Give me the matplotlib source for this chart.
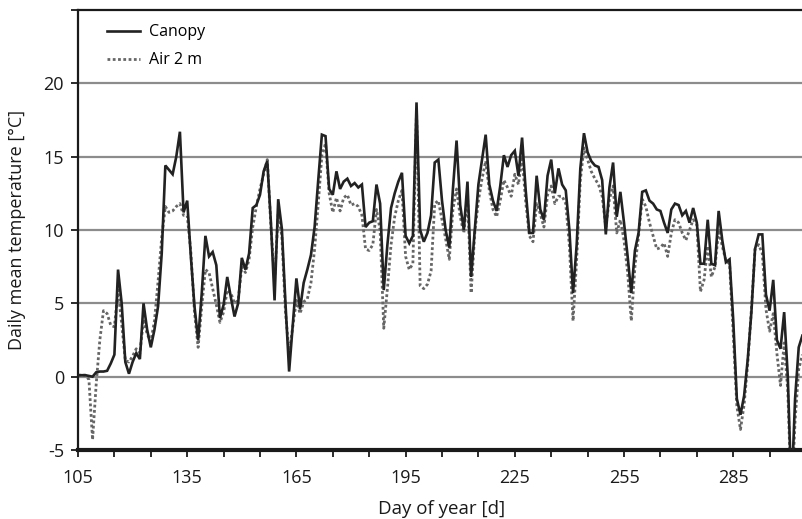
import matplotlib
matplotlib.use("Agg")
import matplotlib.pyplot as plt
import numpy as np

plt.rcParams['font.family'] = ['Open Sans', 'DejaVu Sans']

start_day = 105
canopy = [
    0.1, 0.1, 0.1, 0.05, 0.0, 0.3, 0.35, 0.35, 0.4, 0.9,          # 105-114
    1.5, 7.3, 5.0, 1.0, 0.2, 1.0, 1.6, 1.2, 5.0, 3.2,              # 115-124
    2.0, 3.2, 4.8, 8.4, 14.4, 14.1, 13.8, 15.0, 16.7, 11.2,        # 125-134
    12.0, 8.2, 4.8, 2.5, 5.7, 9.6, 8.2, 8.5, 7.6, 4.0,             # 135-144
    4.9, 6.8, 5.4, 4.1, 5.0, 8.1, 7.3, 8.4, 11.5, 11.7,            # 145-154
    12.4, 14.0, 14.7, 10.5, 5.2, 12.1, 10.1, 5.0, 0.35, 3.5,       # 155-164
    6.7, 4.6, 6.4, 7.3, 8.3, 10.2, 13.4, 16.5, 16.4, 12.8,         # 165-174
    12.4, 14.0, 12.8, 13.3, 13.5, 13.0, 13.2, 12.9, 13.1, 10.2,    # 175-184
    10.5, 10.6, 13.1, 11.8, 5.9, 9.0, 11.5, 12.5, 13.3, 13.9,      # 185-194
    9.6, 9.1, 9.6, 18.7, 10.0, 9.2, 9.8, 11.0, 14.6, 14.8,         # 195-204
    12.0, 10.0, 8.8, 12.8, 16.1, 11.7, 10.0, 13.3, 6.8, 10.0,      # 205-214
    13.1, 14.8, 16.5, 13.1, 12.0, 11.3, 13.0, 15.1, 14.3, 15.1,    # 215-224
    15.4, 13.7, 16.3, 12.7, 9.8, 9.8, 13.7, 11.4, 10.7, 13.7,      # 225-234
    14.8, 12.5, 14.2, 13.1, 12.7, 10.0, 5.7, 9.0, 14.2, 16.6,      # 235-244
    15.3, 14.7, 14.4, 14.3, 13.4, 9.7, 12.9, 14.6, 10.9, 12.6,     # 245-254
    10.5, 8.2, 5.7, 8.6, 9.8, 12.6, 12.7, 12.0, 11.8, 11.4,        # 255-264
    11.3, 10.5, 9.8, 11.4, 11.8, 11.7, 11.0, 11.3, 10.5, 11.5,     # 265-274
    10.5, 7.7, 7.7, 10.7, 7.7, 7.6, 11.3, 9.3, 7.8, 8.0,           # 275-284
    3.9, -1.5, -2.6, -1.3, 1.2, 4.4, 8.7, 9.7, 9.7, 5.6,           # 285-294
    4.5, 6.6, 2.5, 1.9, 4.4, 0.0, -8.0, -1.5, 2.0, 2.8,            # 295-304
]
air2m = [
    0.1, 0.1, 0.1, -0.2, -4.3, -0.5, 2.5, 4.5, 4.3, 3.5,           # 105-114
    3.4, 5.9, 3.6, 1.1, 1.0, 1.4, 1.9, 1.6, 3.9, 2.9,              # 115-124
    2.4, 3.8, 6.5, 9.5, 11.6, 11.2, 11.3, 11.6, 11.8, 11.0,        # 125-134
    11.0, 8.5, 4.4, 2.0, 4.8, 7.3, 7.1, 6.0, 4.9, 3.7,             # 135-144
    4.4, 5.9, 5.7, 5.0, 5.2, 7.5, 7.1, 8.0, 10.2, 11.6,            # 145-154
    12.8, 13.8, 14.8, 10.2, 6.6, 11.1, 9.6, 4.4, 1.6, 3.4,         # 155-164
    5.2, 4.3, 5.1, 5.3, 6.4, 8.7, 11.8, 15.1, 15.9, 12.5,          # 165-174
    11.2, 12.2, 11.3, 12.2, 12.4, 11.7, 11.8, 11.6, 11.0, 8.7,     # 175-184
    8.6, 9.0, 11.4, 10.0, 3.3, 6.0, 9.0, 10.9, 12.0, 12.7,         # 185-194
    8.2, 7.3, 7.7, 18.2, 6.2, 6.0, 6.3, 7.2, 11.8, 12.0,           # 195-204
    10.7, 9.4, 8.0, 11.4, 12.8, 10.9, 9.8, 12.4, 5.7, 9.8,         # 205-214
    12.0, 13.5, 14.7, 12.7, 11.4, 10.9, 12.0, 13.4, 12.9, 12.3,    # 215-224
    13.8, 13.1, 15.0, 11.9, 9.6, 9.2, 11.8, 11.1, 10.2, 12.4,      # 225-234
    13.0, 11.8, 12.3, 12.3, 11.8, 8.9, 3.8, 8.0, 13.4, 15.6,       # 235-244
    14.8, 14.0, 13.5, 13.1, 12.3, 10.2, 12.1, 13.0, 9.8, 10.7,     # 245-254
    9.3, 7.1, 3.8, 7.5, 9.6, 12.1, 11.6, 10.5, 9.6, 8.7,           # 255-264
    8.8, 9.1, 8.2, 9.8, 10.7, 10.5, 9.8, 9.3, 10.0, 10.7,          # 265-274
    10.4, 5.8, 6.6, 8.9, 6.8, 7.5, 10.0, 8.9, 7.9, 7.7,            # 275-284
    3.0, -2.0, -3.6, -1.9, 0.9, 4.6, 8.7, 9.0, 8.4, 4.6,           # 285-294
    3.1, 4.3, 1.6, -0.6, 2.3, -1.0, -8.5, -3.0, 0.5, 1.5,          # 295-304
]
series_labels = ["Canopy", "Air 2 m"]
x_tick_labels = [105, 135, 165, 195, 225, 255, 285]
y_ticks = [-5, 0, 5, 10, 15, 20, 25]
y_tick_labels = ["-5", "0", "5", "10", "15", "20", ""]

days = np.arange(start_day, start_day + len(canopy))

fig = plt.figure(figsize=(8.02, 5.19), dpi=100)
x0, x1 = 105, 304.5
px_per_day = 3.64
ax = fig.add_axes([78/802, 69/519, (x1 - x0) * px_per_day / 802, (519 - 69 - 10)/519])

ax.plot(days, canopy, color='#222222', lw=1.9, label=series_labels[0], zorder=3,
        solid_joinstyle='miter')
ax.plot(days, air2m, color='#666666', lw=2.0, linestyle=(0, (1.0, 0.9)),
        label=series_labels[1], zorder=2)

ax.set_xlim(x0, x1)
ax.set_ylim(-5, 25)

ax.set_yticks(y_ticks)
ax.set_yticklabels(y_tick_labels)
ax.set_xticks(x_tick_labels)
ax.set_xticklabels([str(v) for v in x_tick_labels])
ax.set_xticks(np.arange(105, 305, 10), minor=True)

for yv in [0, 5, 10, 15, 20]:
    ax.axhline(yv, color='#8c8c8c', lw=1.6, zorder=1)

ax.spines['right'].set_visible(False)
ax.spines['left'].set_linewidth(1.6)
ax.spines['top'].set_linewidth(1.6)
ax.spines['bottom'].set_linewidth(3.0)
for s in ['left', 'top', 'bottom']:
    ax.spines[s].set_color('#1a1a1a')

ax.tick_params(axis='x', which='both', direction='out', length=5, width=1.3,
               colors='#1a1a1a', labelsize=13, pad=9)
ax.tick_params(axis='y', direction='out', length=5, width=1.3, colors='#1a1a1a',
               labelsize=13, pad=5)

ax.set_xlabel("Day of year [d]", fontsize=13.5, color='#1a1a1a', labelpad=9)
ax.set_ylabel("Daily mean temperature [°C]", fontsize=13, color='#1a1a1a', labelpad=13)

leg = ax.legend(loc='upper left', bbox_to_anchor=(0.02, 1.0), frameon=False,
                fontsize=11.5, handlelength=2.1, handletextpad=0.55, labelspacing=0.75)

fig.savefig("out.png", dpi=100)
